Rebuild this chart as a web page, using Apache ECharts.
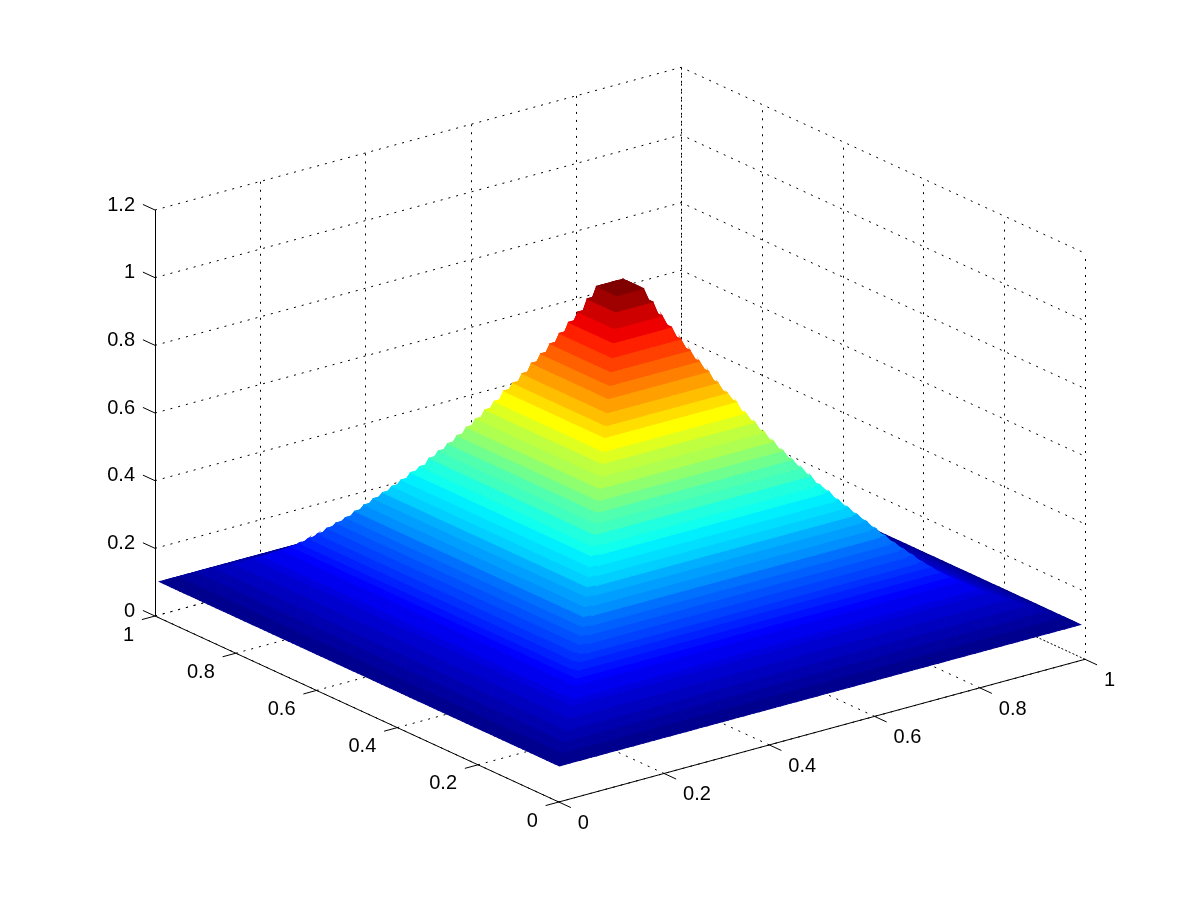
<!DOCTYPE html>
<html>
<head>
<meta charset="utf-8">
<style>html,body{margin:0;padding:0;background:#fff}#c{width:1201px;height:901px}</style>
<script src="https://cdn.jsdelivr.net/npm/echarts@6/dist/echarts.min.js"></script>
</head>
<body>
<div id="c"></div>
<script>
// Surface height on each concentric square ring, centre (ring 0) to boundary
var ringHeights = [1.040,1.040,1.035,0.997,0.957,0.925,0.891,0.859,0.828,0.799,0.767,0.738,0.713,0.681,0.655,0.627,0.601,
  0.575,0.550,0.527,0.504,0.478,0.459,0.436,0.416,0.396,0.377,0.357,0.337,0.317,0.300,0.283,0.265,0.250,0.235,0.222,0.210,
  0.200,0.190,0.180,0.170,0.162,0.154,0.146,0.139,0.132,0.125,0.118,0.110,0.102];
var gridFirst = 0.005, gridStep = 0.01;
var xTicks = [0,0.2,0.4,0.6,0.8,1];
var yTicks = [0,0.2,0.4,0.6,0.8,1];
var zTicks = [0,0.2,0.4,0.6,0.8,1,1.2];
var xTickLabels = ['0','0.2','0.4','0.6','0.8','1'];
var yTickLabels = ['0','0.2','0.4','0.6','0.8','1'];
var zTickLabels = ['0','0.2','0.4','0.6','0.8','1','1.2'];
var azimuth = -37.5, elevation = 30, zMax = 1.2;

var az = azimuth*Math.PI/180, el = elevation*Math.PI/180;
function project(p){
  var z = p[2]/zMax;
  return [p[0]*Math.cos(az)+p[1]*Math.sin(az),
          -p[0]*Math.sin(az)*Math.sin(el)+p[1]*Math.cos(az)*Math.sin(el)+z*Math.cos(el)];
}
function depth(x,y,z){
  return Math.cos(el)*Math.sin(az)*x - Math.cos(el)*Math.cos(az)*y + Math.sin(el)*z/zMax;
}
var uMin = project([0,1,0])[0], uMax = project([1,0,0])[0], vMax = project([1,1,zMax])[1];

// surface grid: 2*rings points per side, each point belongs to one square ring
var R = ringHeights.length, N = 2*R-1, mid = (N)/2;
function height(i,j){ return ringHeights[Math.round(Math.max(Math.abs(i-mid),Math.abs(j-mid))-0.5)]; }
function gx(i){ return gridFirst+gridStep*i; }
var zLo = Math.min.apply(null,ringHeights), zHi = Math.max.apply(null,ringHeights);
function jet(z){
  var idx = Math.min(64,Math.floor((z-zLo)/(zHi-zLo)*64)+1), v = idx/64;
  function c(a){return Math.round(255*Math.max(0,Math.min(1,a)));}
  return 'rgb('+c(Math.min(4*v-1.5,-4*v+4.5))+','+c(Math.min(4*v-0.5,-4*v+3.5))+','+c(Math.min(4*v+0.5,-4*v+2.5))+')';
}
var cells = [];
for (var i=0;i<N;i++) for (var j=0;j<N;j++){
  var d = depth(gx(i+.5),gx(j+.5),(height(i,j)+height(i+1,j)+height(i,j+1)+height(i+1,j+1))/4);
  cells.push([i,j,d]);
}
cells.sort(function(a,b){return a[2]-b[2];});

// box: dotted grid and solid axes / ticks
var dotted = [], solid = [];
var zTop = zTicks[zTicks.length-1];
xTicks.forEach(function(x){
  dotted.push([[x,0,0],[x,1,0],[x,1,zTop]]);
  solid.push([[x,0,0],[x,-0.03,0]]);
});
yTicks.forEach(function(y){
  dotted.push([[0,y,0],[1,y,0],[1,y,zTop]]);
  solid.push([[0,y,0],[-0.025,y,0]]);
});
zTicks.forEach(function(z){
  dotted.push([[0,1,z],[1,1,z],[1,0,z]]);
  solid.push([[0,1,z],[0,1.03,z]]);
});
solid.push([[0,0,0],[1,0,0]],[[0,0,0],[0,1,0]],[[0,1,0],[0,1,zTop]]);

function toPts(api,seg){
  return seg.map(function(p){
    var c = api.coord(project(p));
    return [c[0],c[1]];
  });
}
function crisp(pts){
  return pts.map(function(p,k){
    var q = pts[k+1]||pts[k-1];
    return Math.abs(q[0]-p[0])<0.01 ? [Math.round(p[0])+0.5,p[1]] : p;
  });
}
function lineSeries(name,segs,style){
  return {
    type:'custom', name:name, coordinateSystem:'cartesian2d', clip:false, silent:true, animation:false, progressive:0,
    data:segs.map(function(s,k){return [k,0];}),
    renderItem:function(params,api){
      return {type:'polyline',shape:{points:crisp(toPts(api,segs[params.dataIndex]))},style:style};
    }
  };
}
var labelItems = [];
xTicks.forEach(function(x,k){labelItems.push({p:[x,0,0],t:xTickLabels[k],dx:19,dy:21.5,a:'left'});});
yTicks.forEach(function(y,k){labelItems.push({p:[0,y,0],t:yTickLabels[k],dx:-21,dy:19,a:'right'});});
zTicks.forEach(function(z,k){labelItems.push({p:[0,1,z],t:zTickLabels[k],dx:-20,dy:-5,a:'right'});});

var chart = echarts.init(document.getElementById('c'),null,{renderer:'canvas'});
chart.setOption({
  animation:false,
  backgroundColor:'#fff',
  grid:{left:155,top:67.3,width:930,height:734.7,containLabel:false},
  xAxis:{type:'value',min:uMin,max:uMax,show:false},
  yAxis:{type:'value',min:0,max:vMax,show:false},
  series:[
    lineSeries('grid',dotted,{stroke:'#000',fill:null,lineWidth:1,lineDash:[2,6]}),
    lineSeries('axes',solid,{stroke:'#000',fill:null,lineWidth:1}),
    {
      type:'custom',name:'surface',coordinateSystem:'cartesian2d',clip:false,silent:true,animation:false,progressive:0,
      data:cells.map(function(c){return [c[0],c[1]];}),
      renderItem:function(params,api){
        var i=api.value(0), j=api.value(1);
        var pts=[[i,j],[i+1,j],[i+1,j+1],[i,j+1]].map(function(q){
          return api.coord(project([gx(q[0]),gx(q[1]),height(q[0],q[1])]));
        });
        var col=jet(height(i,j));
        return {type:'polygon',shape:{points:pts},style:{fill:col,stroke:col,lineWidth:1.1}};
      }
    },
    {
      type:'custom',name:'labels',coordinateSystem:'cartesian2d',clip:false,silent:true,animation:false,progressive:0,
      data:labelItems.map(function(l,k){return [k,0];}),
      renderItem:function(params,api){
        var l=labelItems[params.dataIndex], c=api.coord(project(l.p));
        return {type:'text',style:{x:c[0]+l.dx,y:c[1]+l.dy,text:l.t,fill:'#000',
          font:'20px "Liberation Sans", Arial, sans-serif',align:l.a,verticalAlign:'middle'}};
      }
    }
  ]
});
</script>
</body>
</html>
